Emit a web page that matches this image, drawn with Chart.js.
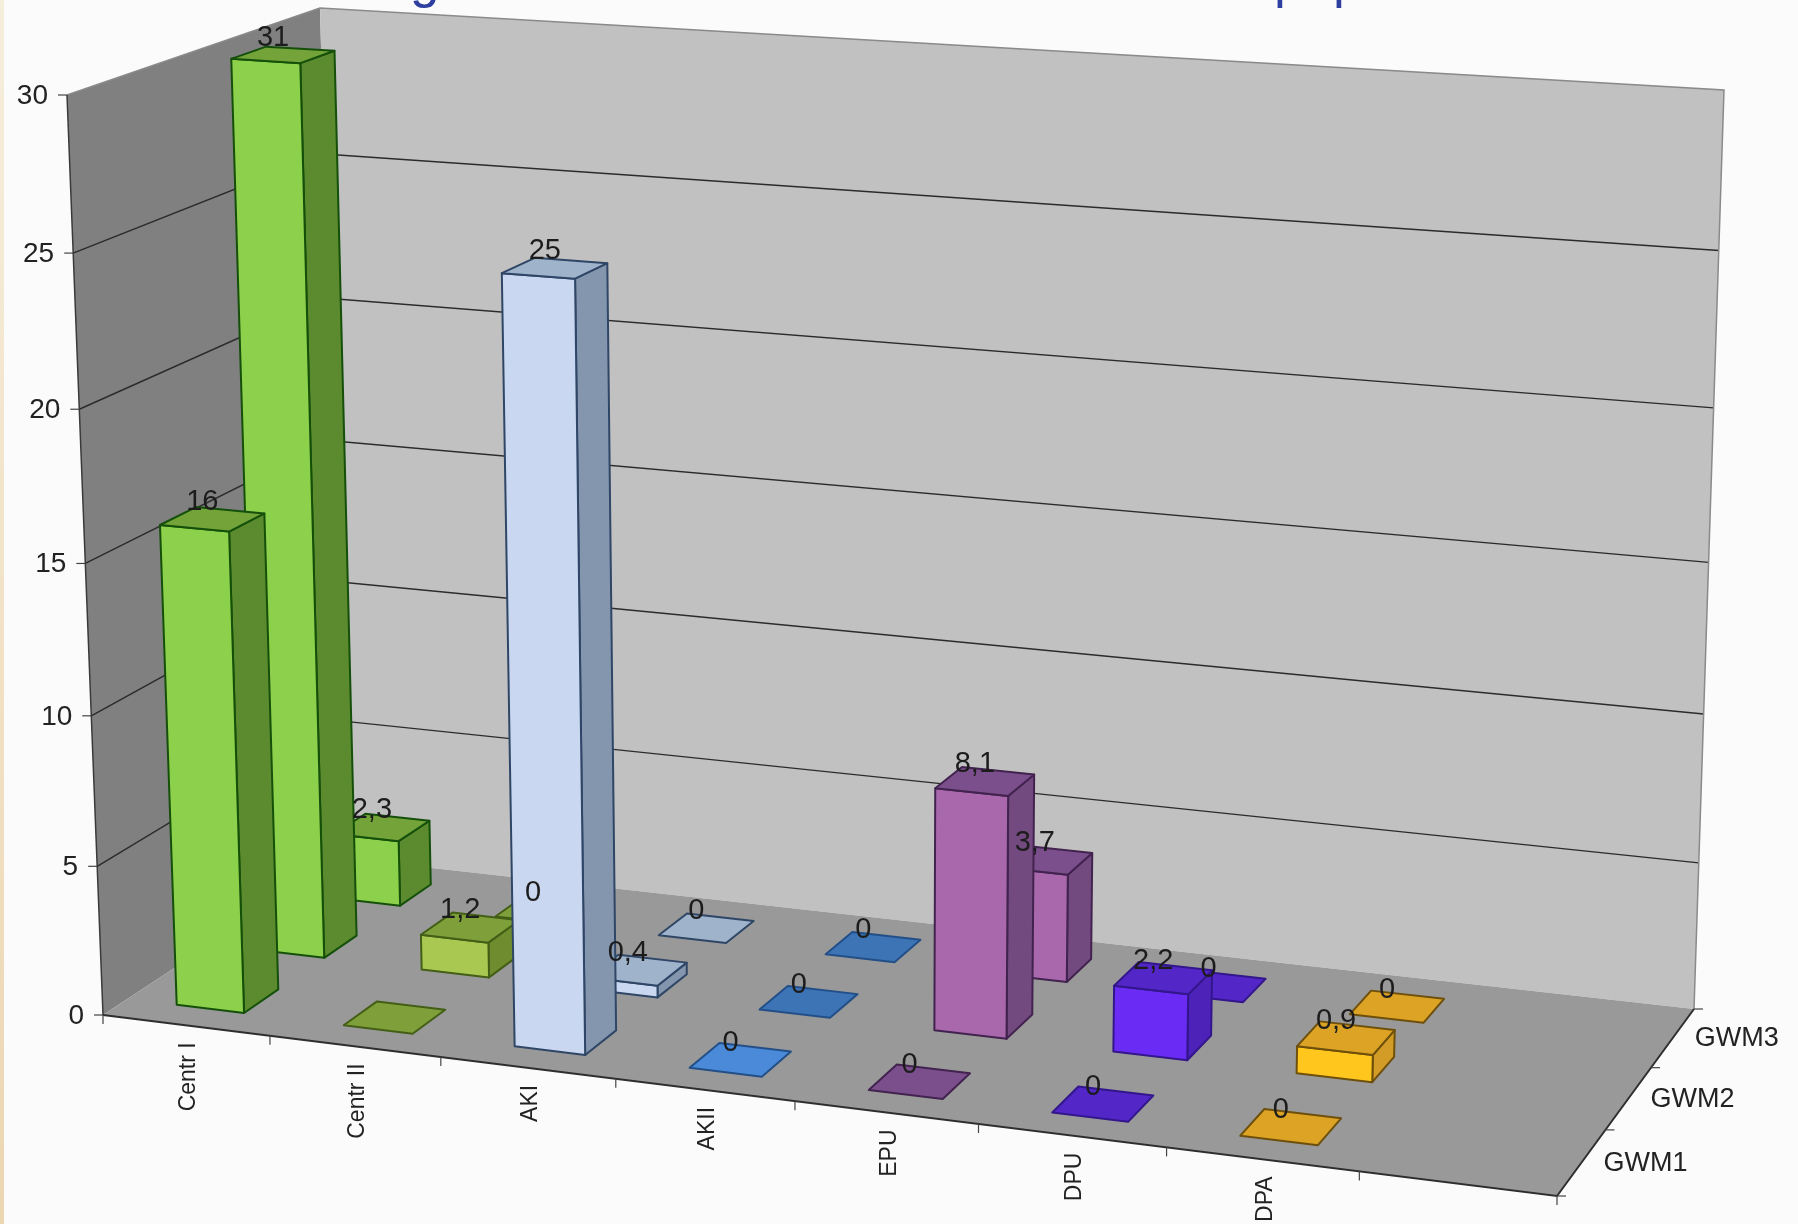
<!DOCTYPE html>
<html>
<head>
<meta charset="utf-8">
<script src="https://cdn.jsdelivr.net/npm/chart.js@4/dist/chart.umd.min.js"></script>
<style>
  html, body { margin: 0; padding: 0; background: #fbfbfb; }
  canvas { display: block; }
</style>
</head>
<body>
<canvas id="chart" width="1798" height="1224"></canvas>
<script>
const categories = ["Centr I", "Centr II", "AKI", "AKII", "EPU", "DPU", "DPA", ""];
const rows = ["GWM1", "GWM2", "GWM3"];
const gwm1 = [16, 0, 25, 0, 0, 0, 0, null];
const gwm2 = [31, 1.2, 0.4, 0, 8.1, 2.2, 0.9, null];
const gwm3 = [2.3, 0, 0, 0, 3.7, 0, 0, null];
// [row, category] pairs that carry no value label
const unlabelled = [[0, 1]];

// face colours per category: front, top, right side, outline
const palette = [
  ["#8dd04b", "#74a33a", "#5c8a2e", "#14500a"],
  ["#a9c851", "#7f9f3b", "#6f8c2f", "#435f16"],
  ["#c9d8f0", "#9fb3cb", "#8496ae", "#2f4666"],
  ["#4c8ede", "#3c74b6", "#35649c", "#234f88"],
  ["#a868ab", "#7b4f8c", "#734a80", "#42234f"],
  ["#6a2cf5", "#5326c8", "#4c22b8", "#33168c"],
  ["#ffc61e", "#dca325", "#d29c26", "#6e500c"],
  ["#999999", "#999999", "#999999", "#999999"],
];
// the front row's zero bars come out lighter than the rows behind it
const frontRowTop = { 3: "#4a8ad8" };

const BAR_HALF_WIDTH = 0.203; // share of a category
const BAR_HALF_DEPTH = 0.21; // share of a row
const PERSPECTIVE_Y = 1.0375;
const PERSPECTIVE_Y_RIGHT = 0.02; // extra foreshortening towards the right wall end

// corners of the 3D box on the page: front left, front right, back right, back left
const floorQuad = [[103, 1015], [1557, 1196], [1694, 1009], [342, 858]];
const ceilingQuad = [[67, 95], [1584, 193], [1724, 90], [320, 8]];

function quadMap(q) {
  const [[x0, y0], [x1, y1], [x2, y2], [x3, y3]] = q;
  const sx = x0 - x1 + x2 - x3, sy = y0 - y1 + y2 - y3;
  const dx1 = x1 - x2, dx2 = x3 - x2, dy1 = y1 - y2, dy2 = y3 - y2;
  const den = dx1 * dy2 - dx2 * dy1;
  const g = (sx * dy2 - dx2 * sy) / den, h = (dx1 * sy - sx * dy1) / den;
  const a = x1 - x0 + g * x1, b = x3 - x0 + h * x3;
  const d = y1 - y0 + g * y1, e = y3 - y0 + h * y3;
  return (u, v) => {
    const w = g * u + h * v + 1;
    return [(a * u + b * v + x0) / w, (d * u + e * v + y0) / w];
  };
}

const floorMap = quadMap(floorQuad);
const ceilingMap = quadMap(ceilingQuad);

// u along categories, v along rows, w up the value axis, all as 0..1 shares
function project(u, v, w) {
  const h = w / (w + (1 - w) * (PERSPECTIVE_Y + PERSPECTIVE_Y_RIGHT * u));
  const p = floorMap(u, v), q = ceilingMap(u, v);
  return [p[0] + (q[0] - p[0]) * h, p[1] + (q[1] - p[1]) * h];
}

function fillFace(ctx, pts, fill, stroke, lineWidth) {
  ctx.beginPath();
  pts.forEach((p, i) => (i ? ctx.lineTo(p[0], p[1]) : ctx.moveTo(p[0], p[1])));
  ctx.closePath();
  if (fill) {
    ctx.fillStyle = fill;
    ctx.fill();
  }
  if (stroke) {
    ctx.strokeStyle = stroke;
    ctx.lineWidth = lineWidth || 2;
    ctx.lineJoin = "round";
    ctx.stroke();
  }
}

function strokeLine(ctx, pts, color, width) {
  ctx.beginPath();
  pts.forEach((p, i) => (i ? ctx.lineTo(p[0], p[1]) : ctx.moveTo(p[0], p[1])));
  ctx.strokeStyle = color;
  ctx.lineWidth = width;
  ctx.stroke();
}

function drawText(ctx, text, x, y, size, align, color) {
  ctx.font = size + 'px "Liberation Sans", Arial, sans-serif';
  ctx.textAlign = align;
  ctx.textBaseline = "middle";
  ctx.fillStyle = color || "#222222";
  ctx.fillText(text, x, y);
}

const box3d = {
  id: "box3d",
  beforeDatasetsDraw(chart) {
    const ctx = chart.ctx;
    const xs = chart.scales.x, ys = chart.scales.y, zs = chart.scales.depth;
    const ux = (i) => xs.getDecimalForPixel(xs.getPixelForValue(i));
    const vz = (i) => zs.getDecimalForPixel(zs.getPixelForValue(i));
    const wy = (val) => ys.getDecimalForPixel(ys.getPixelForValue(val));
    const stepX = 1 / categories.length, stepZ = 1 / rows.length;

    ctx.save();

    // page edge strip and the clipped heading above the chart
    const strip = ctx.createLinearGradient(0, 0, 0, chart.height);
    strip.addColorStop(0, "#f6eedc");
    strip.addColorStop(1, "#ecd6b2");
    ctx.fillStyle = strip;
    ctx.fillRect(0, 0, 4, chart.height);
    ctx.font = '53px "Liberation Sans", Arial, sans-serif';
    ctx.textAlign = "left";
    ctx.textBaseline = "alphabetic";
    ctx.fillStyle = "#2f3f9f";
    ctx.fillText("g", 410, -3);
    ctx.fillText("pop", 1274, -3);

    // walls and floor
    fillFace(ctx, [project(0, 0, 0), project(0, 1, 0), project(0, 1, 1), project(0, 0, 1)], "#808080");
    fillFace(ctx, [project(0, 1, 0), project(1, 1, 0), project(1, 1, 1), project(0, 1, 1)], "#c1c1c1");
    fillFace(ctx, [project(0, 0, 0), project(1, 0, 0), project(1, 1, 0), project(0, 1, 0)], "#999999");

    // value grid on both walls, with ticks and labels at the front edge
    ys.ticks.forEach((t) => {
      const w = wy(t.value);
      const a = project(0, 0, w), b = project(0, 1, w), c = project(1, 1, w);
      if (t.value > 0 && t.value < 30) {
        strokeLine(ctx, [a, b, c], "#2b2b2b", 1.4);
      }
      strokeLine(ctx, [[a[0] - 9, a[1]], a], "#444444", 1.2);
      drawText(ctx, String(t.value), a[0] - 19, a[1] + 1, 28, "right");
    });
    strokeLine(ctx, [project(0, 0, 1), project(0, 1, 1), project(1, 1, 1), project(1, 1, 0)], "#8a8a8a", 1.5);
    strokeLine(ctx, [project(0, 0, 0), project(0, 0, 1)], "#3a3a3a", 1.5);

    // floor edges, category and row ticks
    strokeLine(ctx, [project(0, 0, 0), project(1, 0, 0), project(1, 1, 0)], "#2e2e2e", 2);
    for (let i = 0; i <= categories.length; i++) {
      const p = project(i * stepX, 0, 0);
      strokeLine(ctx, [p, [p[0], p[1] + 9]], "#444444", 1.2);
    }
    for (let i = 0; i <= rows.length; i++) {
      const p = project(1, i * stepZ, 0);
      strokeLine(ctx, [p, [p[0] + 9, p[1]]], "#444444", 1.2);
    }
    xs.ticks.forEach((t, i) => {
      const label = categories[i];
      if (!label) return;
      const p = project(ux(i), 0, 0);
      ctx.save();
      ctx.translate(p[0] + 3, p[1] + 17);
      ctx.rotate(-Math.PI / 2);
      drawText(ctx, label, 0, 0, 23, "right", "#222222");
      ctx.restore();
    });
    rows.forEach((label, r) => {
      const p = project(1, vz(r), 0);
      drawText(ctx, label, p[0] + 22, p[1] + 1, 27, "left");
    });

    // bars, back row first and left to right so nearer faces cover farther ones
    const labels = [];
    for (let r = rows.length - 1; r >= 0; r--) {
      const values = chart.data.datasets[r].data;
      values.forEach((val, c) => {
        if (val === null) return;
        const [front, top0, side, edge] = palette[c];
        const top = r === 0 && frontRowTop[c] ? frontRowTop[c] : top0;
        const u0 = ux(c) - BAR_HALF_WIDTH * stepX, u1 = ux(c) + BAR_HALF_WIDTH * stepX;
        const v0 = vz(r) - BAR_HALF_DEPTH * stepZ, v1 = vz(r) + BAR_HALF_DEPTH * stepZ;
        // a bar past the axis maximum stops at the ceiling of the box
        const w = wy(Math.min(val, ys.max));
        if (val > 0) {
          fillFace(ctx, [project(u1, v0, 0), project(u1, v1, 0), project(u1, v1, w), project(u1, v0, w)], side, edge);
          fillFace(ctx, [project(u0, v0, 0), project(u1, v0, 0), project(u1, v0, w), project(u0, v0, w)], front, edge);
        }
        fillFace(ctx, [project(u0, v0, w), project(u1, v0, w), project(u1, v1, w), project(u0, v1, w)], top, edge);
        if (unlabelled.some(([ur, uc]) => ur === r && uc === c)) return;
        const centre = project(ux(c), vz(r), w);
        labels.push([String(val).replace(".", ","), centre[0] - 10, centre[1] - 17]);
      });
    }

    // value labels sit above every bar
    labels.forEach(([text, x, y]) => drawText(ctx, text, x, y, 29, "center", "#1c1c1c"));

    ctx.restore();
    return false;
  },
};

new Chart(document.getElementById("chart"), {
  type: "bar",
  data: {
    labels: categories,
    datasets: [
      { label: rows[0], data: gwm1 },
      { label: rows[1], data: gwm2 },
      { label: rows[2], data: gwm3 },
    ],
  },
  options: {
    responsive: false,
    animation: false,
    layout: { padding: 0 },
    plugins: { legend: { display: false }, tooltip: { enabled: false } },
    scales: {
      x: { display: false, type: "category", offset: true },
      depth: { display: false, type: "category", axis: "x", labels: rows, offset: true },
      y: { display: false, type: "linear", min: 0, max: 30, ticks: { stepSize: 5 } },
    },
  },
  plugins: [box3d],
});
</script>
</body>
</html>
